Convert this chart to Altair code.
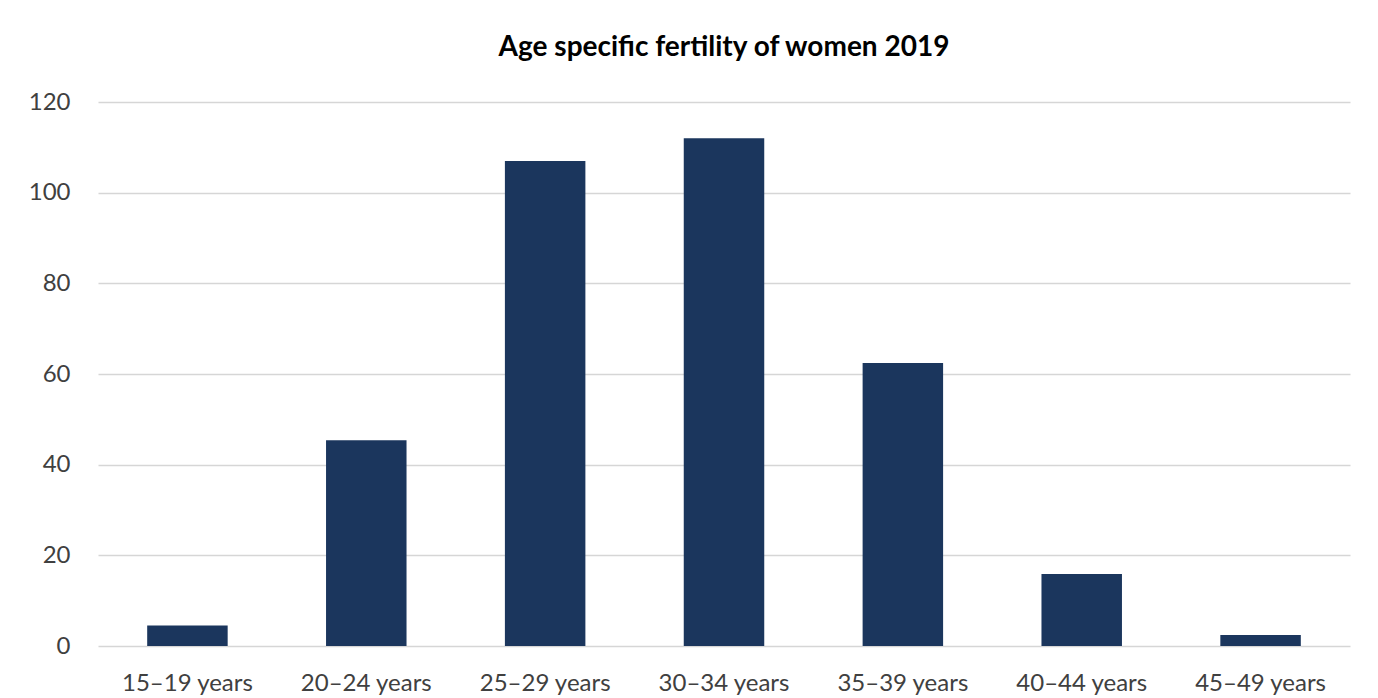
import altair as alt
import pandas as pd

categories = ["15–19  years", "20–24 years", "25–29 years", "30–34 years",
              "35–39 years", "40–44 years", "45–49 years"]
values = [4.5, 45.4, 107.0, 112.0, 62.4, 15.9, 2.4]

df = pd.DataFrame({"age": categories, "fertility": values})

FONT = "Lato"

chart = alt.Chart(df).mark_bar(color="#1b365d").encode(
    x=alt.X("age:N", sort=categories, title=None,
            scale=alt.Scale(paddingInner=0.55, paddingOuter=0.275),
            axis=alt.Axis(labelAngle=0, labelFontSize=24, labelColor="#404040",
                          labelFont=FONT, ticks=False, domain=False,
                          labelPadding=25, grid=False)),
    y=alt.Y("fertility:Q", title=None,
            scale=alt.Scale(domain=[0, 120]),
            axis=alt.Axis(values=[0, 20, 40, 60, 80, 100, 120], labelFontSize=24,
                          labelColor="#404040", labelFont=FONT, ticks=False,
                          domain=False, labelPadding=28, gridColor="#d6d6d6",
                          gridWidth=1.5)),
).properties(
    width=1252,
    height=544,
    title=alt.TitleParams("Age specific fertility of women 2019", fontSize=28,
                          font=FONT, fontWeight="bold", color="#000000",
                          offset=28, anchor="middle"),
    padding={"left": 20, "top": 26, "right": 10, "bottom": 5},
).configure(background="#ffffff").configure_view(strokeWidth=0, stroke="transparent")

chart.save("out.html", embed_options={"renderer": "svg", "actions": False})
